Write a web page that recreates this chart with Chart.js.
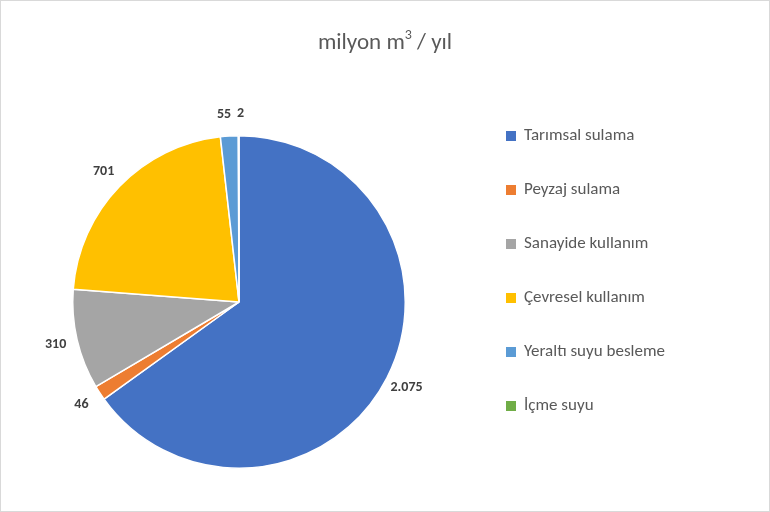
<!DOCTYPE html>
<html><head><meta charset="utf-8">
<script src="https://cdn.jsdelivr.net/npm/chart.js@4"></script>
<style>
body{margin:0;background:#fff;}
#wrap{position:absolute;left:0;top:0;width:768px;height:510px;border:1px solid #d9d9d9;}
</style></head><body>
<div id="wrap"><canvas id="myChart" width="768" height="510"></canvas></div>
<script>
var categories = ['Tarımsal sulama', 'Peyzaj sulama', 'Sanayide kullanım', 'Çevresel kullanım', 'Yeraltı suyu besleme', 'İçme suyu'];
var values = [2075, 46, 310, 701, 55, 2];
var valueLabels = ['2.075', '46', '310', '701', '55', '2'];
var colors = ['#4472C4', '#ED7D31', '#A5A5A5', '#FFC000', '#5B9BD5', '#70AD47'];

// labels outside slices + legend at right
var extras = {
  id: 'extras',
  afterDraw: function(chart) {
    var c = chart.ctx;
    var arcs = chart.getDatasetMeta(0).data;
    c.save();
    c.font = 'bold 14px Calibri, "Liberation Sans", Arial';
    c.fillStyle = '#404040';
    c.textAlign = 'center';
    c.textBaseline = 'middle';
    arcs.forEach(function(a, i) {
      var mid = (a.startAngle + a.endAngle) / 2;
      var r = a.outerRadius + 22;
      var x = a.x + Math.cos(mid) * r, y = a.y + Math.sin(mid) * r;
      if (i == 4) x -= 4;
      if (i == 5) x += 2;
      c.fillText(valueLabels[i], x, y);
    });
    c.font = '17px Calibri, "Liberation Sans", Arial';
    c.fillStyle = '#595959';
    c.textAlign = 'left';
    categories.forEach(function(t, i) {
      var y = 135 + i * 54;
      c.fillStyle = colors[i];
      c.fillRect(505, y - 5, 10, 10);
      c.fillStyle = '#595959';
      c.fillText(t, 523, y);
    });
    c.font = '23px Calibri, "Liberation Sans", Arial';
    c.textAlign = 'left';
    var t1 = 'milyon m', t2 = ' / yıl';
    var w1 = c.measureText(t1).width;
    c.font = '14px Calibri, "Liberation Sans", Arial';
    var w2 = c.measureText('3').width;
    c.font = '23px Calibri, "Liberation Sans", Arial';
    var w3 = c.measureText(t2).width;
    var sx = 384 - (w1 + w2 + w3) / 2;
    c.fillText(t1, sx, 42);
    c.font = '14px Calibri, "Liberation Sans", Arial';
    c.fillText('3', sx + w1, 34);
    c.font = '23px Calibri, "Liberation Sans", Arial';
    c.fillText(t2, sx + w1 + w2, 42);
    c.restore();
  }
};

var ctx = document.getElementById('myChart').getContext('2d');
var myChart = new Chart(ctx, {
  type: 'pie',
  data: {
    labels: categories,
    datasets: [{
      data: values,
      backgroundColor: colors,
      borderColor: '#ffffff',
      borderWidth: 1.5
    }]
  },
  options: {
    responsive: false,
    animation: false,
    layout: { padding: { left: 71, right: 363, top: 134, bottom: 42 } },
    plugins: { legend: { display: false }, tooltip: { enabled: false } }
  },
  plugins: [extras]
});
</script>
</body></html>
